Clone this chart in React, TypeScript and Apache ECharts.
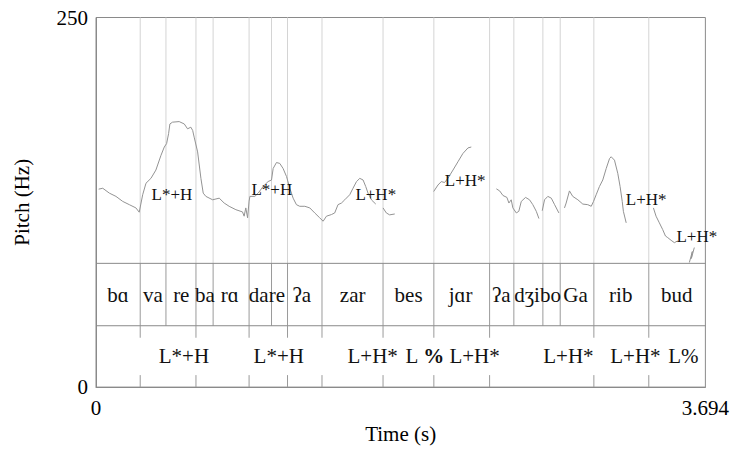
import React, { useEffect, useRef } from "react";
import * as echarts from "echarts";

// ---- axis ranges ----
const T_MAX = 3.694;
const F_MAX = 250;
const xTickLabels = ["0", "3.694"];
const yTickLabels = ["0", "250"];

// tier boundaries (Hz coordinates of the TextGrid rows on the shared axis)
const TIER1_TOP = 83.7;
const TIER2_TOP = 41.5;

// ---- tier 1 (syllables) ----
const tier1Boundaries = [0.268, 0.424, 0.606, 0.71, 0.928, 1.064, 1.161, 1.37, 1.74, 2.048, 2.386, 2.533, 2.709, 2.814, 3.018, 3.351];
const tier1Labels = ["bɑ", "va", "re", "ba", "rɑ", "dare", "ʔa", "zar", "bes", "jɑr", "ʔa", "dʒibo", "Ga", "rib", "bud"];
const tier1LabelTimes = [0.133, 0.345, 0.517, 0.66, 0.811, 1.036, 1.247, 1.556, 1.895, 2.21, 2.457, 2.677, 2.907, 3.181, 3.521];

// ---- tier 2 (tones, point tier) ----
const tier2Points = [0.268, 0.606, 0.928, 1.161, 1.37, 1.74, 2.048, 2.386, 3.018, 3.351];
const tier2Labels = ["L*+H", "L*+H", "L+H*", "L {b|%}", "L+H*", "L+H*", "L+H*", "L%"];
const tier2LabelTimes = [0.533, 1.108, 1.677, 1.992, 2.295, 2.864, 3.27, 3.561];

// ---- tone labels written over the pitch track ----
const pitchLabels = ["L*+H", "L*+H", "L+H*", "L+H*", "L+H*", "L+H*"];
const pitchLabelTimes = [0.46, 1.066, 1.696, 2.238, 3.335, 3.642];
const pitchLabelHz = [130.5, 133.9, 130.5, 139.6, 127.2, 101.7];

// ---- pitch contour segments (s, Hz) ----
const pitchSegTimes: number[][] = [
  [0.016, 0.041, 0.081, 0.121, 0.162, 0.202, 0.242, 0.262, 0.283, 0.303, 0.333, 0.363, 0.394, 0.414, 0.428, 0.44, 0.448, 0.464, 0.504, 0.535, 0.555, 0.575, 0.586, 0.595, 0.616, 0.636, 0.65, 0.666, 0.707, 0.747, 0.777, 0.807, 0.848, 0.888, 0.898, 0.908, 0.919, 0.928, 0.933, 0.963, 0.983, 1.013, 1.043, 1.064, 1.074, 1.094, 1.114, 1.134, 1.155, 1.175, 1.195, 1.215, 1.235, 1.266, 1.296, 1.326, 1.356, 1.377, 1.397, 1.427, 1.447, 1.467, 1.488, 1.508, 1.538, 1.558, 1.579, 1.599, 1.619, 1.635, 1.649, 1.671, 1.696],
  [1.74, 1.76, 1.78, 1.811],
  [2.047, 2.073, 2.093, 2.113, 2.133, 2.164, 2.194, 2.224, 2.255, 2.275],
  [2.427, 2.447, 2.467, 2.491, 2.503, 2.517, 2.527, 2.548, 2.563, 2.578, 2.604, 2.628, 2.648, 2.669, 2.685],
  [2.705, 2.719, 2.739, 2.76, 2.78, 2.806],
  [2.84, 2.85, 2.87, 2.89, 2.921, 2.951, 2.981, 3.002, 3.016, 3.032, 3.052, 3.072, 3.093, 3.113, 3.123, 3.143, 3.163, 3.177, 3.19, 3.197, 3.214],
  [3.379, 3.395, 3.415, 3.435, 3.452, 3.466, 3.486, 3.506, 3.526],
  [3.597, 3.615, 3.609, 3.627],
];
const pitchSegHz: number[][] = [
  [133.9, 134.5, 131.2, 129.0, 125.6, 123.4, 121.2, 118.3, 130.1, 137.9, 141.2, 146.8, 156.8, 162.4, 164.7, 171.4, 178.0, 179.2, 179.6, 178.0, 174.7, 175.8, 173.6, 169.1, 159.1, 141.2, 131.2, 129.0, 126.7, 127.8, 124.5, 122.3, 120.0, 118.5, 115.6, 121.2, 114.5, 125.8, 129.0, 129.0, 131.2, 135.7, 139.0, 140.1, 147.9, 151.9, 151.3, 147.9, 142.4, 134.5, 127.8, 123.4, 122.3, 122.3, 121.2, 117.8, 114.5, 112.2, 115.6, 116.7, 117.8, 123.4, 124.5, 126.7, 130.1, 134.5, 139.0, 141.2, 140.1, 135.7, 131.2, 126.5, 123.8],
  [121.2, 117.8, 116.5, 117.1],
  [132.3, 136.7, 139.0, 138.4, 141.2, 146.8, 152.4, 158.0, 161.8, 162.4],
  [134.1, 132.7, 129.6, 128.3, 124.5, 126.7, 121.2, 117.8, 118.9, 125.6, 128.3, 126.7, 123.4, 118.9, 114.0],
  [119.3, 126.7, 129.0, 127.8, 123.4, 117.8],
  [121.2, 124.5, 132.7, 129.0, 126.7, 123.8, 123.4, 122.3, 125.6, 130.1, 135.7, 140.1, 147.9, 154.6, 155.8, 153.5, 144.6, 135.7, 125.6, 118.9, 111.1],
  [121.2, 115.6, 111.1, 106.6, 102.2, 101.1, 99.3, 97.7, 98.9],
  [84.3, 91.7, 87.0, 94.4],
];

const FONT = "'Liberation Serif', 'Times New Roman', serif";
const FRAME = "#8a8a8a";

export default function App() {
  const ref = useRef<HTMLDivElement>(null);

  useEffect(() => {
    if (!ref.current) return;
    const chart = echarts.init(ref.current, undefined, { renderer: "svg" });

    const pitchSeries = pitchSegTimes.map((ts, i) => ({
      type: "line",
      data: ts.map((t, j) => [t, pitchSegHz[i][j]]),
      showSymbol: false,
      symbol: "none",
      silent: true,
      z: 3,
      lineStyle: { color: "#939393", width: 1 },
    }));

    const option: any = {
      animation: false,
      backgroundColor: "#ffffff",
      grid: {
        left: 96,
        top: 17.5,
        width: 610,
        height: 373.5,
        show: true,
        borderColor: FRAME,
        borderWidth: 1,
        backgroundColor: "transparent",
      },
      xAxis: {
        type: "value",
        min: 0,
        max: T_MAX,
        interval: T_MAX,
        name: "Time (s)",
        nameLocation: "middle",
        nameGap: 35,
        nameTextStyle: { fontFamily: FONT, fontSize: 21, color: "#000" },
        axisLine: { show: true, lineStyle: { color: FRAME } },
        axisTick: { show: false },
        splitLine: { show: false },
        axisLabel: {
          fontFamily: FONT,
          fontSize: 21,
          color: "#000",
          margin: 10,
          showMinLabel: true,
          showMaxLabel: true,
          formatter: (v: number) => (v < 0.001 ? xTickLabels[0] : xTickLabels[1]),
        },
      },
      yAxis: {
        type: "value",
        min: 0,
        max: F_MAX,
        interval: F_MAX,
        name: "Pitch (Hz)",
        nameLocation: "middle",
        nameGap: 64,
        nameTextStyle: { fontFamily: FONT, fontSize: 21, color: "#000" },
        axisLine: { show: true, lineStyle: { color: FRAME } },
        axisTick: { show: false },
        splitLine: { show: false },
        axisLabel: {
          fontFamily: FONT,
          fontSize: 21,
          color: "#000",
          margin: 8,
          showMinLabel: true,
          showMaxLabel: true,
          formatter: (v: number) => (v < 1 ? yTickLabels[0] : yTickLabels[1]),
        },
      },
      series: [
        // tier boundaries (vertical)
        {
          type: "custom",
          silent: true,
          z: 1,
          data: tier1Boundaries.map((t) => [t, 0]),
          renderItem: (_p: any, api: any) => {
            const t = api.value(0);
            const top = api.coord([t, F_MAX]);
            const mid = api.coord([t, TIER1_TOP]);
            const bot = api.coord([t, TIER2_TOP]);
            return {
              type: "group",
              children: [
                { type: "line", shape: { x1: top[0], y1: top[1], x2: mid[0], y2: mid[1] }, style: { stroke: "#d4d4d4", lineWidth: 1 } },
                { type: "line", shape: { x1: mid[0], y1: mid[1], x2: bot[0], y2: bot[1] }, style: { stroke: "#9a9a9a", lineWidth: 1 } },
              ],
            };
          },
        },
        // tier separators (horizontal)
        {
          type: "custom",
          silent: true,
          z: 2,
          data: [[0, TIER1_TOP], [0, TIER2_TOP]],
          renderItem: (_p: any, api: any) => {
            const h = api.value(1);
            const a = api.coord([0, h]);
            const b = api.coord([T_MAX, h]);
            return { type: "line", shape: { x1: a[0], y1: a[1], x2: b[0], y2: b[1] }, style: { stroke: FRAME, lineWidth: 1 } };
          },
        },
        // tier 2 point ticks
        {
          type: "custom",
          silent: true,
          z: 2,
          data: tier2Points.map((t) => [t, 0]),
          renderItem: (_p: any, api: any) => {
            const t = api.value(0);
            const top = api.coord([t, TIER2_TOP]);
            const bot = api.coord([t, 0]);
            return {
              type: "group",
              children: [
                { type: "line", shape: { x1: top[0], y1: top[1], x2: top[0], y2: top[1] + 12 }, style: { stroke: "#9a9a9a", lineWidth: 1 } },
                { type: "line", shape: { x1: bot[0], y1: bot[1] - 12, x2: bot[0], y2: bot[1] }, style: { stroke: "#9a9a9a", lineWidth: 1 } },
              ],
            };
          },
        },
        ...pitchSeries,
        // tier 1 labels
        {
          type: "custom",
          silent: true,
          z: 5,
          data: tier1LabelTimes.map((t, i) => [t, (TIER1_TOP + TIER2_TOP) / 2, i]),
          renderItem: (_p: any, api: any) => {
            const p = api.coord([api.value(0), api.value(1)]);
            return {
              type: "text",
              x: p[0],
              y: p[1],
              style: { text: tier1Labels[api.value(2)], fontFamily: FONT, fontSize: 21, fill: "#111", align: "center", verticalAlign: "middle" },
            };
          },
        },
        // tier 2 labels
        {
          type: "custom",
          silent: true,
          z: 5,
          data: tier2LabelTimes.map((t, i) => [t, TIER2_TOP / 2, i]),
          renderItem: (_p: any, api: any) => {
            const p = api.coord([api.value(0), api.value(1)]);
            return {
              type: "text",
              x: p[0],
              y: p[1],
              style: {
                text: tier2Labels[api.value(2)],
                fontFamily: FONT,
                fontSize: 21,
                fill: "#111",
                align: "center",
                verticalAlign: "middle",
                rich: { b: { fontFamily: FONT, fontSize: 21, fontWeight: "bold", fill: "#111" } },
              },
            };
          },
        },
        // tone labels on the pitch track
        {
          type: "custom",
          silent: true,
          z: 6,
          data: pitchLabelTimes.map((t, i) => [t, pitchLabelHz[i], i]),
          renderItem: (_p: any, api: any) => {
            const p = api.coord([api.value(0), api.value(1)]);
            return {
              type: "text",
              x: p[0],
              y: p[1],
              style: { text: pitchLabels[api.value(2)], fontFamily: FONT, fontSize: 17, fill: "#111", align: "center", verticalAlign: "middle" },
            };
          },
        },
      ],
    };

    chart.setOption(option);
    return () => chart.dispose();
  }, []);

  return (
    <div
      ref={ref}
      style={{ position: "fixed", left: 0, top: 0, width: 732, height: 449, background: "#fff" }}
    />
  );
}
